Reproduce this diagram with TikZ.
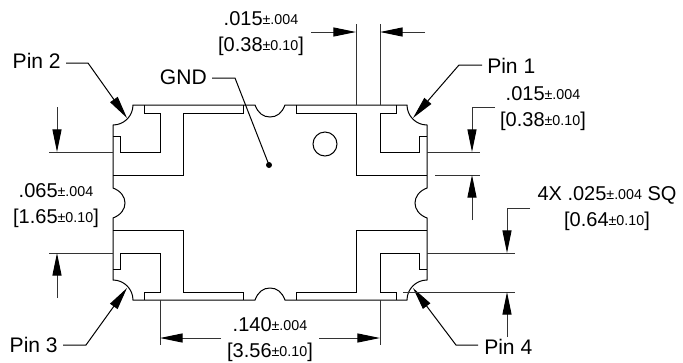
\documentclass[tikz,border=0pt]{standalone}
\usepackage{fontspec}
\setmainfont{Liberation Sans}
\usetikzlibrary{calc, arrows.meta}
\newcommand{\tol}[1]{\raisebox{1pt}{\fontsize{10.7}{10.7}\selectfont ±#1}}
\tikzstyle{dimtxt}=[inner sep=0pt, align=center, font=\fontsize{15}{19.5}\selectfont]
\tikzstyle{pintxt}=[inner sep=0pt, font=\fontsize{15.8}{18}\selectfont]
\tikzstyle{pnt}=[coordinate]
\tikzstyle{part}=[draw, line width=0.75pt]
\tikzstyle{dim}=[draw, line width=0.75pt, color=black!80]

\begin{document}
\begin{tikzpicture}[x=0.75pt,y=-0.75pt,>={Triangle[length=17pt,width=6.8pt,color=black,fill=black]}]
      \useasboundingbox (0,0) rectangle (683,362);

      % body outline
      \draw[part] (113,125) .. controls (124,125) and (133,116) .. (133,105) -- (255,105)
        .. controls (258,113) and (263,117) .. (270,117) .. controls (277,117) and (282,113) .. (285,105)
        -- (407,105) .. controls (407,116) and (416,125) .. (427,125) -- (427,188)
        .. controls (419,191) and (415,197) .. (415,203) .. controls (415,209) and (419,215) .. (427,218)
        -- (427,280) .. controls (416,280) and (407,289) .. (407,300) -- (285,300)
        .. controls (282,292) and (277,288) .. (270,288) .. controls (263,288) and (258,292) .. (255,300)
        -- (133,300) .. controls (133,289) and (124,280) .. (113,280) -- (113,218)
        .. controls (121,215) and (125,209) .. (125,203) .. controls (125,197) and (121,191) .. (113,188)
        -- cycle;

      % pads
      \draw[part] (144,105) -- (144,113) -- (160,113) -- (160,152) -- (120,152) -- (120,136) -- (113,136);
      \draw[part] (396,105) -- (396,113) -- (380,113) -- (380,152) -- (419,152) -- (419,136) -- (427,136);
      \draw[part] (144,300) -- (144,292) -- (160,292) -- (160,253) -- (120,253) -- (120,269) -- (113,269);
      \draw[part] (396,300) -- (396,292) -- (380,292) -- (380,253) -- (419,253) -- (419,269) -- (427,269);

      % ground paddle
      \draw[part] (113,175) -- (183,175) -- (183,113) -- (243,113) -- (243,105);
      \draw[part] (427,175) -- (356,175) -- (356,113) -- (296,113) -- (296,105);
      \draw[part] (113,230) -- (183,230) -- (183,292) -- (243,292) -- (243,300);
      \draw[part] (427,230) -- (356,230) -- (356,292) -- (296,292) -- (296,300);

      \node (mark) [draw, circle, line width=0.75pt, minimum size=18pt, inner sep=0pt] at (325,144) {};
      \node (gndDot) [fill, circle, minimum size=4.5pt, inner sep=0pt] at (269,165) {};

      % labels
      \node [pintxt, anchor=base east] (pin2) at (61,68) {Pin 2};
      \node [pintxt, anchor=base west] (pin1) at (487,73) {Pin 1};
      \node [pintxt, anchor=base east] (pin3) at (58,352) {Pin 3};
      \node [pintxt, anchor=base west] (pin4) at (484,354) {Pin 4};
      \node [pintxt, anchor=base east] (gnd) at (207,84) {GND};

      \node [dimtxt] (dimTop) at (261,34) {.015\tol{.004}\\{}[0.38\tol{0.10}]};
      \node [dimtxt] (dimRight) at (543,109) {.015\tol{.004}\\{}[0.38\tol{0.10}]};
      \node [dimtxt] (dimPad) at (607,209) {4X .025\tol{.004} SQ\\{}[0.64\tol{0.10}]};
      \node [dimtxt] (dimLeft) at (56,206) {.065\tol{.004}\\{}[1.65\tol{0.10}]};
      \node [dimtxt] (dimBot) at (270,340) {.140\tol{.004}\\{}[3.56\tol{0.10}]};

      % leader points
      \node (k2a) [pnt] at (66,63) {};
      \node (k2b) [pnt, right of=k2a, node distance=16.5pt] {};
      \node (k2c) [pnt] at (127,118) {};
      \node (k1a) [pnt] at (482,65) {};
      \node (k1b) [pnt, left of=k1a, node distance=17.25pt] {};
      \node (k1c) [pnt] at (413,118) {};
      \node (k3a) [pnt] at (63,345) {};
      \node (k3b) [pnt, right of=k3a, node distance=17.25pt] {};
      \node (k3c) [pnt] at (127,288) {};
      \node (k4a) [pnt] at (478,345) {};
      \node (k4b) [pnt, left of=k4a, node distance=16.5pt] {};
      \node (k4c) [pnt] at (413,288) {};
      \node (kga) [pnt] at (212,78) {};
      \node (kgb) [pnt, right of=kga, node distance=17.25pt] {};

      \path[part, ->] (k2a) -- (k2b) -- (k2c);
      \path[part, ->] (k1a) -- (k1b) -- (k1c);
      \path[part, ->] (k3a) -- (k3b) -- (k3c);
      \path[part, ->] (k4a) -- (k4b) -- (k4c);
      \path[part] (kga) -- (kgb) -- (gndDot.center);

      % extension lines
      \node (eTopA) [pnt] at (356,24) {};
      \node (eTopB) [pnt] at (356,105) {};
      \node (eTopC) [pnt] at (380,24) {};
      \node (eTopD) [pnt] at (380,105) {};
      \node (eBotA) [pnt] at (160,300) {};
      \node (eBotB) [pnt] at (160,345) {};
      \node (eBotC) [pnt] at (380,300) {};
      \node (eBotD) [pnt] at (380,345) {};
      \node (eL1a) [pnt] at (49,152) {};
      \node (eL1b) [pnt] at (113,152) {};
      \node (eL2a) [pnt] at (49,253) {};
      \node (eL2b) [pnt] at (113,253) {};
      \node (eR1a) [pnt] at (427,152) {};
      \node (eR1b) [pnt] at (480,152) {};
      \node (eR2a) [pnt] at (435,175) {};
      \node (eR2b) [pnt] at (480,175) {};
      \node (eR3a) [pnt] at (427,253) {};
      \node (eR3b) [pnt] at (515,253) {};
      \node (eR4a) [pnt] at (403,292) {};
      \node (eR4b) [pnt] at (515,292) {};

      \path[dim] (eTopA) -- (eTopB);
      \path[dim] (eTopC) -- (eTopD);
      \path[dim] (eBotA) -- (eBotB);
      \path[dim] (eBotC) -- (eBotD);
      \path[dim] (eL1a) -- (eL1b);
      \path[dim] (eL2a) -- (eL2b);
      \path[dim] (eR1a) -- (eR1b);
      \path[dim] (eR2a) -- (eR2b);
      \path[dim] (eR3a) -- (eR3b);
      \path[dim] (eR4a) -- (eR4b);

      % dimension arrows
      \node (aTop1) [pnt] at (356,32) {};
      \node (aTop1s) [pnt, left of=aTop1, node distance=33.75pt] {};
      \node (aTop2) [pnt] at (380,32) {};
      \node (aTop2s) [pnt, right of=aTop2, node distance=33.75pt] {};
      \node (aBot1) [pnt] at (160,338) {};
      \node (aBot1s) [pnt, right of=aBot1, node distance=45.75pt] {};
      \node (aBot2) [pnt] at (380,338) {};
      \node (aBot2s) [pnt, left of=aBot2, node distance=45.75pt] {};
      \node (aL1) [pnt] at (57,152) {};
      \node (aL1s) [pnt, above of=aL1, node distance=33.75pt] {};
      \node (aL2) [pnt] at (57,253) {};
      \node (aL2s) [pnt, below of=aL2, node distance=33.75pt] {};
      \node (aR1) [pnt] at (472,152) {};
      \node (aR1b) [pnt, above of=aR1, node distance=33.75pt] {};
      \node (aR1s) [pnt, right of=aR1b, node distance=17.25pt] {};
      \node (aR2) [pnt] at (472,175) {};
      \node (aR2s) [pnt, below of=aR2, node distance=33.75pt] {};
      \node (aR3) [pnt] at (507,253) {};
      \node (aR3b) [pnt, above of=aR3, node distance=33.75pt] {};
      \node (aR3s) [pnt, right of=aR3b, node distance=17.25pt] {};
      \node (aR4) [pnt] at (507,292) {};
      \node (aR4s) [pnt, below of=aR4, node distance=33.75pt] {};

      \path[dim, ->] (aTop1s) -- (aTop1);
      \path[dim, ->] (aTop2s) -- (aTop2);
      \path[dim, ->] (aBot1s) -- (aBot1);
      \path[dim, ->] (aBot2s) -- (aBot2);
      \path[dim, ->] (aL1s) -- (aL1);
      \path[dim, ->] (aL2s) -- (aL2);
      \path[dim, ->] (aR1s) -- (aR1b) -- (aR1);
      \path[dim, ->] (aR2s) -- (aR2);
      \path[dim, ->] (aR3s) -- (aR3b) -- (aR3);
      \path[dim, ->] (aR4s) -- (aR4);
\end{tikzpicture}
\end{document}
